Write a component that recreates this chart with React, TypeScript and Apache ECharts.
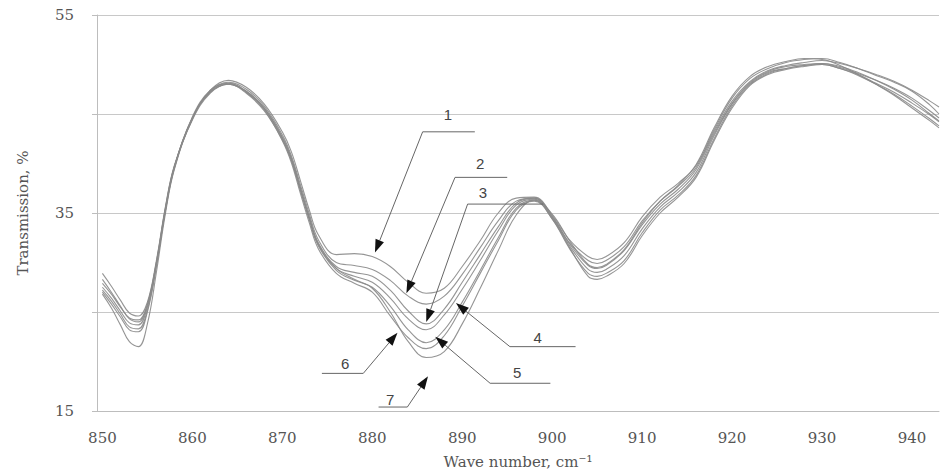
import React, { useEffect, useRef } from "react";
import * as echarts from "echarts";

const waveNumbers = [850, 851, 852, 853, 854, 855, 856, 857, 858, 860, 862, 864, 866, 868, 870, 871, 872, 873, 874, 876, 878, 880, 882, 884, 886, 888, 890, 892, 894, 896, 898, 900, 902, 904, 905, 906, 908, 910, 912, 914, 916, 918, 920, 922, 924, 926, 928, 930, 932, 934, 936, 938, 940, 942, 943];

const curve1 = [28.9, 27.6, 26.2, 24.9, 24.6, 26.0, 30.2, 35.6, 39.8, 44.5, 47.4, 48.4, 47.7, 46.0, 43.2, 41.2, 38.3, 35.3, 32.8, 30.8, 30.9, 30.6, 29.6, 28.0, 26.9, 27.4, 29.6, 32.2, 35.0, 36.5, 36.6, 34.8, 32.2, 30.6, 30.3, 30.6, 32.0, 34.6, 36.6, 38.0, 39.8, 43.4, 46.6, 48.6, 49.6, 50.2, 50.5, 50.6, 50.2, 49.6, 48.9, 48.2, 47.3, 45.9, 45.0];
const curve2 = [27.9, 26.8, 25.5, 24.4, 24.2, 25.8, 30.0, 35.5, 39.7, 44.6, 47.3, 48.2, 47.5, 45.8, 42.9, 40.8, 37.9, 34.9, 32.3, 30.0, 29.7, 29.3, 28.2, 26.6, 25.8, 26.6, 28.8, 31.5, 34.2, 36.2, 36.5, 34.6, 31.9, 30.2, 29.9, 30.2, 31.6, 34.2, 36.2, 37.7, 39.6, 43.2, 46.3, 48.3, 49.4, 49.9, 50.2, 50.4, 50.1, 49.6, 49.0, 48.3, 47.4, 46.3, 45.7];
const curve3 = [27.5, 26.4, 25.1, 23.9, 23.7, 25.5, 29.8, 35.3, 39.6, 44.7, 47.4, 48.1, 47.3, 45.6, 42.7, 40.6, 37.6, 34.6, 32.0, 29.6, 29.0, 28.6, 27.2, 25.1, 23.8, 25.3, 28.0, 30.8, 33.6, 36.0, 36.5, 34.7, 31.8, 29.7, 29.4, 29.7, 31.2, 33.8, 35.9, 37.4, 39.4, 43.0, 46.1, 48.2, 49.3, 49.8, 50.0, 50.1, 49.7, 49.1, 48.4, 47.6, 46.6, 45.3, 44.6];
const curve4 = [27.2, 26.1, 24.8, 23.5, 23.3, 25.2, 29.7, 35.2, 39.5, 44.6, 47.2, 48.0, 47.2, 45.5, 42.5, 40.4, 37.4, 34.4, 31.8, 29.4, 28.6, 28.0, 26.4, 24.3, 23.2, 24.7, 27.3, 30.2, 33.2, 35.8, 36.4, 34.5, 31.6, 29.3, 29.0, 29.3, 30.7, 33.4, 35.6, 37.1, 39.1, 42.8, 46.0, 48.1, 49.2, 49.6, 49.9, 50.1, 49.8, 49.2, 48.4, 47.5, 46.4, 45.0, 44.3];
const curve5 = [26.8, 25.4, 23.7, 22.0, 21.5, 23.8, 29.0, 34.9, 39.4, 44.5, 47.2, 48.0, 47.1, 45.3, 42.4, 40.3, 37.3, 34.3, 31.7, 29.2, 28.2, 27.5, 25.6, 23.2, 21.9, 23.2, 26.0, 29.2, 32.5, 35.5, 36.3, 34.4, 31.3, 28.9, 28.6, 28.9, 30.2, 33.0, 35.3, 36.8, 38.8, 42.5, 45.8, 48.0, 49.1, 49.6, 49.9, 50.0, 49.6, 48.9, 48.0, 47.0, 45.8, 44.5, 43.8];
const curve6 = [27.0, 25.8, 24.5, 23.2, 23.0, 25.0, 29.6, 35.2, 39.6, 44.6, 47.3, 48.1, 47.2, 45.4, 42.3, 40.1, 37.0, 34.0, 31.4, 28.9, 27.9, 27.0, 24.6, 22.4, 21.3, 22.6, 25.6, 28.9, 32.2, 35.3, 36.2, 34.4, 31.4, 28.6, 28.3, 28.6, 29.9, 32.7, 35.0, 36.6, 38.6, 42.3, 45.6, 47.9, 49.0, 49.5, 49.8, 50.0, 49.6, 49.0, 48.1, 47.2, 46.1, 44.9, 44.2];
const curve7 = [28.3, 27.0, 25.6, 24.3, 24.0, 25.7, 30.0, 35.4, 39.7, 44.4, 47.1, 48.0, 47.3, 45.6, 42.6, 40.5, 37.5, 34.5, 31.9, 29.4, 28.3, 27.4, 25.0, 22.0, 20.4, 21.0, 23.8, 27.4, 31.2, 34.8, 36.3, 34.9, 32.1, 29.8, 29.5, 29.8, 31.3, 34.0, 36.2, 37.8, 39.9, 43.6, 46.8, 48.8, 49.8, 50.3, 50.6, 50.5, 49.9, 49.0, 48.0, 46.9, 45.6, 44.3, 43.6];

const curves = [curve1, curve2, curve3, curve4, curve5, curve6, curve7];

const xTickLabels = [850, 860, 870, 880, 890, 900, 910, 920, 930, 940];
const yTickLabels = [15, 35, 55];

// annotation callouts (data coordinates): elbow, shelf end, arrow tip, label position
const annotationLabels = ["1", "2", "3", "4", "5", "6", "7"];
const annotationElbow = [[885.6, 43.2], [889.2, 38.6], [890.6, 35.9], [895.3, 21.5], [893.1, 17.8], [879.0, 18.8], [883.9, 15.4]];
const annotationShelfEnd = [[891.4, 43.2], [895.0, 38.6], [899.0, 35.9], [902.6, 21.5], [899.8, 17.8], [874.4, 18.8], [880.7, 15.4]];
const annotationTip = [[880.3, 31.0], [883.8, 26.9], [886.0, 24.0], [889.3, 25.9], [887.0, 22.5], [882.8, 22.9], [886.2, 18.5]];
const annotationLabelPos = [[888.4, 44.9], [892.0, 40.0], [892.3, 37.1], [898.4, 22.4], [896.1, 18.9], [877.0, 19.8], [882.0, 16.2]];

export default function App() {
  const ref = useRef<HTMLDivElement>(null);

  useEffect(() => {
    document.body.style.margin = "0";
    if (!ref.current) return;
    const chart = echarts.init(ref.current, null, { renderer: "svg" });

    const lineSeries = curves.map((c, i) => ({
      type: "line",
      name: "Sample " + (i + 1),
      data: waveNumbers.map((x, j) => [x, c[j]]),
      smooth: 0.4,
      symbol: "none",
      lineStyle: { color: "#8a8a8a", width: 1.1, opacity: 0.9 },
      z: 2,
    }));

    const annData = annotationLabels.map((_, i) => [
      annotationElbow[i][0], annotationElbow[i][1],
      annotationShelfEnd[i][0], annotationShelfEnd[i][1],
      annotationTip[i][0], annotationTip[i][1],
      annotationLabelPos[i][0], annotationLabelPos[i][1],
    ]);

    const annSeries = {
      type: "custom",
      coordinateSystem: "cartesian2d",
      clip: false,
      z: 5,
      encode: { x: [0, 2, 4, 6], y: [1, 3, 5, 7] },
      data: annData,
      renderItem: (params: any, api: any) => {
        const e = api.coord([api.value(0), api.value(1)]);
        const f = api.coord([api.value(2), api.value(3)]);
        const t = api.coord([api.value(4), api.value(5)]);
        const l = api.coord([api.value(6), api.value(7)]);
        const dx = t[0] - e[0];
        const dy = t[1] - e[1];
        const len = Math.sqrt(dx * dx + dy * dy) || 1;
        const ux = dx / len;
        const uy = dy / len;
        const al = 13;
        const aw = 4.5;
        const bx = t[0] - ux * al;
        const by = t[1] - uy * al;
        const nx = -uy;
        const ny = ux;
        return {
          type: "group",
          children: [
            {
              type: "polyline",
              shape: { points: [f, e, [bx, by]] },
              style: { stroke: "#666", lineWidth: 1, fill: null },
            },
            {
              type: "polygon",
              shape: { points: [t, [bx + nx * aw, by + ny * aw], [bx - nx * aw, by - ny * aw]] },
              style: { fill: "#111" },
            },
            {
              type: "text",
              x: l[0],
              y: l[1],
              style: {
                text: annotationLabels[params.dataIndex],
                fill: "#444",
                font: "15px 'Liberation Sans', Arial, sans-serif",
                align: "center",
                verticalAlign: "middle",
              },
            },
          ],
        };
      },
    };

    chart.setOption({
      animation: false,
      backgroundColor: "#ffffff",
      grid: { left: 97, right: 1, top: 15, bottom: 63, outerBoundsMode: "none" },
      xAxis: {
        type: "value",
        min: 849.4,
        max: 943,
        name: "Wave number, cm⁻¹",
        nameLocation: "middle",
        nameGap: 43,
        nameTextStyle: { fontFamily: "'DejaVu Serif', serif", fontSize: 15, color: "#555" },
        axisLine: { show: true, lineStyle: { color: "#bdbdbd", width: 1 } },
        axisTick: { show: false },
        splitLine: { show: false },
        axisLabel: {
          customValues: xTickLabels,
          margin: 19,
          fontFamily: "'DejaVu Serif', serif",
          fontSize: 15,
          color: "#555",
        },
      },
      yAxis: {
        type: "value",
        min: 15,
        max: 55,
        interval: 10,
        name: "Transmission, %",
        nameLocation: "middle",
        nameGap: 67,
        nameTextStyle: { fontFamily: "'DejaVu Serif', serif", fontSize: 15, color: "#555" },
        axisLine: { show: true, lineStyle: { color: "#bdbdbd", width: 1 } },
        axisTick: { show: true, length: 5, lineStyle: { color: "#bdbdbd" } },
        splitLine: { show: true, lineStyle: { color: "#c8c8c8", width: 1 } },
        axisLabel: {
          margin: 23,
          fontFamily: "'DejaVu Serif', serif",
          fontSize: 15,
          color: "#555",
          formatter: (v: number) => (yTickLabels.indexOf(v) >= 0 ? String(v) : ""),
        },
      },
      series: [...lineSeries, annSeries],
    });

    return () => chart.dispose();
  }, []);

  return <div ref={ref} style={{ width: 940, height: 474 }} />;
}
